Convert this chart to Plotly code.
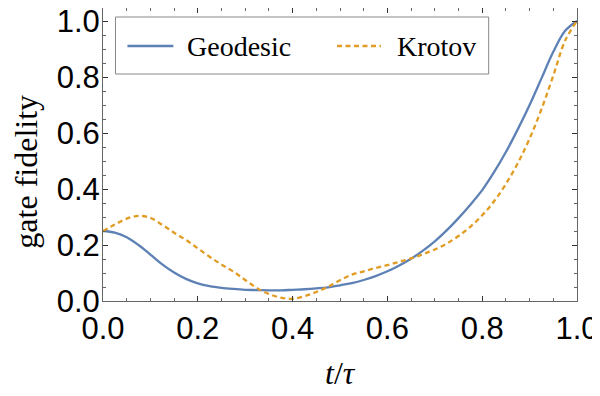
import plotly.graph_objects as go

# time grid (t / tau) shared by both curves
t_grid = [0, 0.025, 0.05, 0.075, 0.1, 0.125, 0.15, 0.175, 0.2, 0.225,
          0.25, 0.275, 0.3, 0.325, 0.35, 0.375, 0.4, 0.425, 0.45, 0.475,
          0.5, 0.525, 0.55, 0.575, 0.6, 0.625, 0.65, 0.675, 0.7, 0.725,
          0.75, 0.775, 0.8, 0.825, 0.85, 0.875, 0.9, 0.925, 0.95, 0.975, 1.0]

geodesic = [0.25, 0.244, 0.228, 0.200, 0.166, 0.131, 0.102, 0.079, 0.063, 0.053,
            0.047, 0.043, 0.040, 0.039, 0.038, 0.038, 0.040, 0.042, 0.045, 0.049,
            0.056, 0.064, 0.075, 0.089, 0.106, 0.127, 0.151, 0.180, 0.213, 0.252,
            0.296, 0.344, 0.396, 0.46, 0.532, 0.613, 0.70, 0.795, 0.89, 0.965, 1.0]

krotov = [0.25, 0.273, 0.294, 0.304, 0.297, 0.272, 0.244, 0.218, 0.188, 0.158,
          0.13, 0.105, 0.075, 0.046, 0.025, 0.012, 0.008, 0.017, 0.032, 0.051,
          0.074, 0.094, 0.106, 0.118, 0.128, 0.140, 0.152, 0.167, 0.184, 0.205,
          0.232, 0.265, 0.306, 0.356, 0.418, 0.492, 0.58, 0.685, 0.805, 0.93, 1.0]

series_names = ["Geodesic", "Krotov"]
tick_vals = [0, 0.2, 0.4, 0.6, 0.8, 1.0]
tick_text = ["0.0", "0.2", "0.4", "0.6", "0.8", "1.0"]

BLUE = "#5E81B5"
ORANGE = "#E19C24"
SERIF = "Liberation Serif"
SANS = "Liberation Sans"

# the page body adds an 8px margin; keep the figure inside the window
OFF = 8
FIG_W, FIG_H = 600 - OFF, 396 - 2 * OFF
# plot-area edges in window pixels
L, R, T, B = 102.5, 577.5, 8, 301
W, H = R - L, B - T


def px(x):
    return (x - L) / W


def py(y):
    return (B - y) / H


fig = go.Figure()

fig.add_trace(go.Scatter(
    x=t_grid, y=geodesic, mode="lines", name=series_names[0],
    line=dict(color=BLUE, width=2.3, shape="spline", smoothing=1),
))
fig.add_trace(go.Scatter(
    x=t_grid, y=krotov, mode="lines", name=series_names[1],
    line=dict(color=ORANGE, width=2.3, dash="5px,3.5px", shape="spline", smoothing=1),
))

axis_style = dict(
    showline=True, linecolor="#666", linewidth=1, mirror="allticks",
    ticks="inside", ticklen=5, tickcolor="#333", tickwidth=1,
    tickvals=tick_vals, ticktext=tick_text, ticklabeloverflow="allow",
    tickfont=dict(family=SANS, size=31, color="black"),
    showgrid=False, zeroline=False,
    minor=dict(ticks="inside", ticklen=3, tickcolor="#666", dtick=0.05, showgrid=False),
)

fig.update_xaxes(range=[0, 1], **axis_style)
fig.update_yaxes(range=[0, (B - T) / 280], ticklabelstandoff=-4, **axis_style)

# hand-drawn legend box (Mathematica style)
fig.add_shape(type="rect", xref="paper", yref="paper",
              x0=px(115), x1=px(489), y0=py(74), y1=py(17),
              line=dict(color="#888", width=1), fillcolor="white", layer="above")
leg_y = py(46)
fig.add_shape(type="line", xref="paper", yref="paper",
              x0=px(127), x1=px(173), y0=leg_y, y1=leg_y,
              line=dict(color=BLUE, width=2.3), layer="above")
fig.add_shape(type="line", xref="paper", yref="paper",
              x0=px(337), x1=px(381), y0=leg_y, y1=leg_y,
              line=dict(color=ORANGE, width=2.3, dash="5px,3.5px"), layer="above")
fig.add_annotation(xref="paper", yref="paper", x=px(185), y=leg_y,
                   text=series_names[0], showarrow=False, xanchor="left", yanchor="middle",
                   font=dict(family=SERIF, size=28, color="black"))
fig.add_annotation(xref="paper", yref="paper", x=px(395), y=leg_y,
                   text=series_names[1], showarrow=False, xanchor="left", yanchor="middle",
                   font=dict(family=SERIF, size=28, color="black"))

# axis titles
fig.add_annotation(xref="paper", yref="paper", x=px(25), y=py(172),
                   text="gate fidelity", textangle=-90, showarrow=False,
                   xanchor="center", yanchor="middle",
                   font=dict(family=SERIF, size=32, color="black"))
fig.add_annotation(xref="paper", yref="paper", x=0.5, y=py(373),
                   text="<i>t</i>/<i>τ</i>", showarrow=False,
                   xanchor="center", yanchor="middle",
                   font=dict(family=SERIF, size=32, color="black"))

fig.update_layout(
    width=FIG_W, height=FIG_H,
    margin=dict(l=L - OFF, r=(OFF + FIG_W) - R, t=T - OFF,
                b=(OFF + FIG_H) - B, autoexpand=False),
    plot_bgcolor="white", paper_bgcolor="white",
    showlegend=False,
)

fig.write_html("out.html")
